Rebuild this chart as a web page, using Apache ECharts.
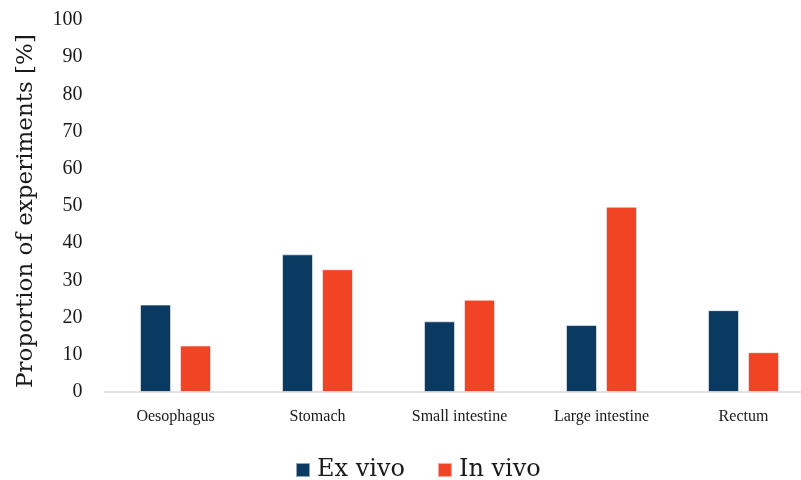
<!DOCTYPE html>
<html>
<head>
<meta charset="utf-8">
<script src="https://cdn.jsdelivr.net/npm/echarts@6/dist/echarts.min.js"></script>
<style>
  html, body { margin: 0; padding: 0; background: #fff; }
  #chart { width: 801px; height: 480px; }
</style>
</head>
<body>
<div id="chart"></div>
<script>
// Share of experiments per GI tract region
const regions = ['Oesophagus', 'Stomach', 'Small intestine', 'Large intestine', 'Rectum'];
const exVivo = [23.5, 37, 19, 18, 22];
const inVivo = [12.5, 33, 24.8, 49.8, 10.7];
const yTicks = { min: 0, max: 100, step: 10 };

const serif = '"Liberation Serif", "DejaVu Serif", serif';
const wideSerif = '"DejaVu Serif", "Liberation Serif", serif';

const chart = echarts.init(document.getElementById('chart'), null, { renderer: 'canvas' });

chart.setOption({
  animation: false,
  backgroundColor: '#ffffff',
  // the last category slot runs past the right edge of the canvas
  grid: { left: 104.5, width: 710, top: 20, bottom: 88, containLabel: false, outerBoundsMode: 'none' },
  legend: {
    left: 290,
    top: 453,
    itemWidth: 14,
    itemHeight: 14,
    itemGap: 32,
    icon: 'rect',
    textStyle: { fontFamily: wideSerif, fontSize: 24, color: '#1a1a1a', padding: [0, 0, 0, 2] },
    data: ['Ex vivo', 'In vivo']
  },
  xAxis: {
    type: 'category',
    data: regions,
    axisLine: { lineStyle: { color: '#d9d9d9', width: 1.5 } },
    axisTick: { show: false },
    axisLabel: { fontFamily: serif, fontSize: 16, color: '#1a1a1a', margin: 17, interval: 0 }
  },
  yAxis: {
    type: 'value',
    min: yTicks.min,
    max: yTicks.max,
    interval: yTicks.step,
    name: 'Proportion of experiments [%]',
    nameLocation: 'middle',
    nameGap: 67,
    nameTextStyle: { fontFamily: wideSerif, fontSize: 23, color: '#1a1a1a', padding: [0, 10, 0, 0] },
    axisLine: { show: false },
    axisTick: { show: false },
    splitLine: { show: false },
    axisLabel: { fontFamily: serif, fontSize: 20, color: '#1a1a1a', margin: 22 }
  },
  series: [
    {
      name: 'Ex vivo',
      type: 'bar',
      data: exVivo,
      barWidth: 31,
      barGap: '29%',
      itemStyle: { color: '#0a3a62', borderColor: 'rgba(255,255,255,0.55)', borderWidth: 1 }
    },
    {
      name: 'In vivo',
      type: 'bar',
      data: inVivo,
      barWidth: 31,
      itemStyle: { color: '#f04424', borderColor: 'rgba(255,255,255,0.55)', borderWidth: 1 }
    }
  ]
});
</script>
</body>
</html>
